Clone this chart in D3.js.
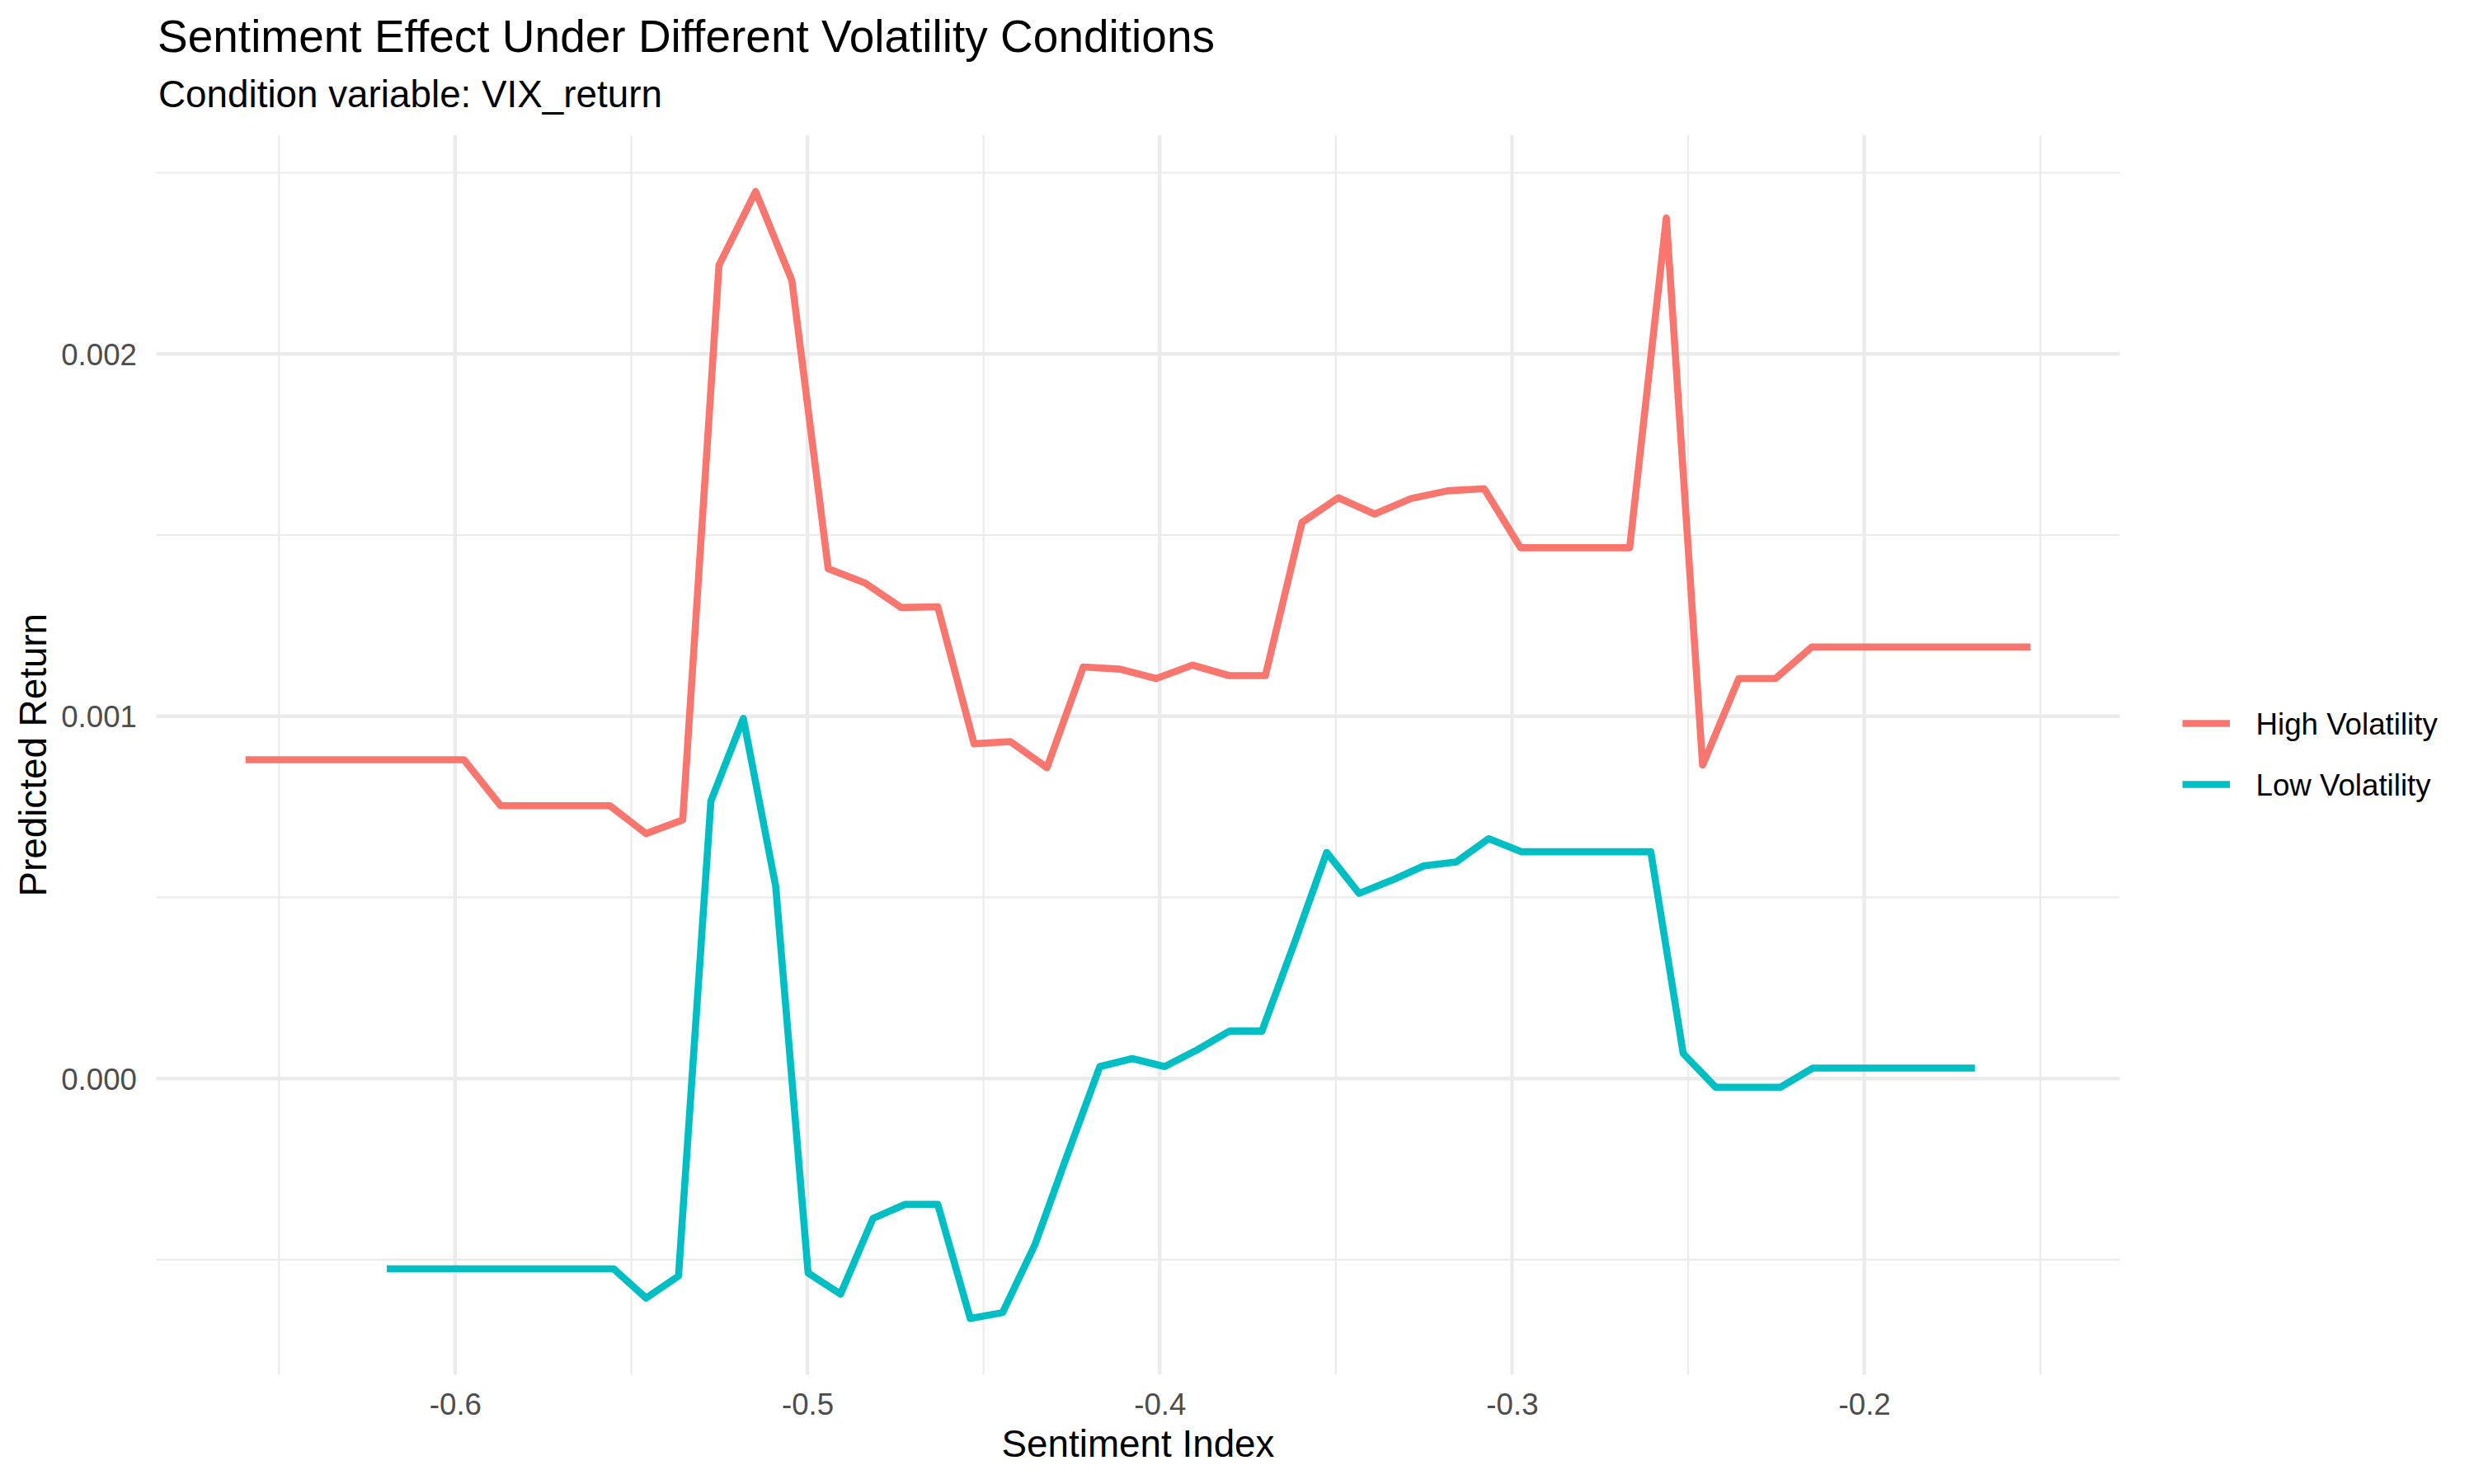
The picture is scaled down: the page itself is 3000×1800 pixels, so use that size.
<!DOCTYPE html>
<html>
<head>
<meta charset="utf-8">
<script src="https://cdn.jsdelivr.net/npm/d3@7"></script>
<style>
  html, body { margin: 0; padding: 0; background: #ffffff; }
  svg { display: block; }
  text { font-family: "Liberation Sans", Arial, Helvetica, sans-serif; }
</style>
</head>
<body>
<svg id="chart" width="3000" height="1800"></svg>
<script>
// ---------------- DATA ----------------
const seriesNames = ["High Volatility", "Low Volatility"];
const seriesColors = ["#F8766D", "#00BFC4"];

const highX = [-0.6595, -0.6492, -0.6388, -0.6285, -0.6181, -0.6078, -0.5975, -0.5871, -0.5768, -0.5664,
  -0.5561, -0.5458, -0.5354, -0.5251, -0.5147, -0.5044, -0.4941, -0.4837, -0.4734, -0.4630,
  -0.4527, -0.4424, -0.4320, -0.4217, -0.4113, -0.4010, -0.3907, -0.3803, -0.3700, -0.3596,
  -0.3493, -0.3390, -0.3286, -0.3183, -0.3079, -0.2976, -0.2873, -0.2769, -0.2666, -0.2562,
  -0.2459, -0.2356, -0.2252, -0.2149, -0.2045, -0.1942, -0.1839, -0.1735, -0.1632, -0.1528];
const highY = [0.000880, 0.000880, 0.000880, 0.000880, 0.000880, 0.000880, 0.000880, 0.000753, 0.000753, 0.000753,
  0.000753, 0.000676, 0.000714, 0.002245, 0.002448, 0.002202, 0.001407, 0.001368, 0.001300, 0.001302,
  0.000924, 0.000930, 0.000858, 0.001136, 0.001130, 0.001104, 0.001141, 0.001112, 0.001112, 0.001535,
  0.001603, 0.001558, 0.001601, 0.001622, 0.001628, 0.001465, 0.001465, 0.001465, 0.001465, 0.002375,
  0.000865, 0.001104, 0.001104, 0.001191, 0.001191, 0.001191, 0.001191, 0.001191, 0.001191, 0.001191];

const lowX = [-0.6194, -0.6102, -0.6010, -0.5918, -0.5826, -0.5734, -0.5642, -0.5550, -0.5458, -0.5366,
  -0.5274, -0.5182, -0.5090, -0.4998, -0.4906, -0.4814, -0.4722, -0.4630, -0.4538, -0.4446,
  -0.4354, -0.4262, -0.4170, -0.4078, -0.3986, -0.3894, -0.3802, -0.3710, -0.3618, -0.3526,
  -0.3434, -0.3342, -0.3250, -0.3158, -0.3066, -0.2974, -0.2882, -0.2790, -0.2698, -0.2606,
  -0.2514, -0.2422, -0.2330, -0.2238, -0.2146, -0.2054, -0.1962, -0.1870, -0.1778, -0.1686];
const lowY = [-0.000525, -0.000525, -0.000525, -0.000525, -0.000525, -0.000525, -0.000525, -0.000525, -0.000606, -0.000545,
  0.000766, 0.000994, 0.000530, -0.000537, -0.000595, -0.000386, -0.000347, -0.000347, -0.000662, -0.000646,
  -0.000458, -0.000210, 0.000033, 0.000055, 0.000033, 0.000079, 0.000131, 0.000131, 0.000373, 0.000624,
  0.000511, 0.000547, 0.000587, 0.000598, 0.000662, 0.000626, 0.000626, 0.000626, 0.000626, 0.000626,
  0.000069, -0.000024, -0.000024, -0.000024, 0.000029, 0.000029, 0.000029, 0.000029, 0.000029, 0.000029];

const xMajorTicks = [-0.6, -0.5, -0.4, -0.3, -0.2];
const xTickLabels = ["-0.6", "-0.5", "-0.4", "-0.3", "-0.2"];
const xMinorTicks = [-0.65, -0.55, -0.45, -0.35, -0.25, -0.15];
const yMajorTicks = [0.000, 0.001, 0.002];
const yTickLabels = ["0.000", "0.001", "0.002"];
const yMinorTicks = [-0.0005, 0.0005, 0.0015, 0.0025];

const titleText = "Sentiment Effect Under Different Volatility Conditions";
const subtitleText = "Condition variable: VIX_return";
const xTitle = "Sentiment Index";
const yTitle = "Predicted Return";

// ---------------- LAYOUT ----------------
const panel = { left: 189.5, right: 2570.5, top: 164, bottom: 1667.5 };
const gridColor = "#EBEBEB";
const axisTextColor = "#4D4D4D";

const series = [
  { name: seriesNames[0], color: seriesColors[0], pts: highX.map((x, i) => ({ x, y: highY[i] })) },
  { name: seriesNames[1], color: seriesColors[1], pts: lowX.map((x, i) => ({ x, y: lowY[i] })) }
];

function expand(ext, mult) {
  const d = ext[1] - ext[0];
  return [ext[0] - d * mult, ext[1] + d * mult];
}
const allX = highX.concat(lowX), allY = highY.concat(lowY);
const x = d3.scaleLinear().domain(expand(d3.extent(allX), 0.05)).range([panel.left, panel.right]);
const y = d3.scaleLinear().domain(expand(d3.extent(allY), 0.05)).range([panel.bottom, panel.top]);

const svg = d3.select("#chart");
svg.append("rect").attr("width", 3000).attr("height", 1800).attr("fill", "#ffffff");

// grid
const grid = svg.append("g");
grid.selectAll(".ymin").data(yMinorTicks).enter().append("line")
  .attr("x1", panel.left).attr("x2", panel.right)
  .attr("y1", d => y(d)).attr("y2", d => y(d))
  .attr("stroke", gridColor).attr("stroke-width", 2.2);
grid.selectAll(".xmin").data(xMinorTicks).enter().append("line")
  .attr("y1", panel.top).attr("y2", panel.bottom)
  .attr("x1", d => x(d)).attr("x2", d => x(d))
  .attr("stroke", gridColor).attr("stroke-width", 2.2);
grid.selectAll(".ymaj").data(yMajorTicks).enter().append("line")
  .attr("x1", panel.left).attr("x2", panel.right)
  .attr("y1", d => y(d)).attr("y2", d => y(d))
  .attr("stroke", gridColor).attr("stroke-width", 4.4);
grid.selectAll(".xmaj").data(xMajorTicks).enter().append("line")
  .attr("y1", panel.top).attr("y2", panel.bottom)
  .attr("x1", d => x(d)).attr("x2", d => x(d))
  .attr("stroke", gridColor).attr("stroke-width", 4.4);

// lines
const lineGen = d3.line().x(d => x(d.x)).y(d => y(d.y));
svg.append("g").selectAll("path").data(series).enter().append("path")
  .attr("d", d => lineGen(d.pts))
  .attr("fill", "none")
  .attr("stroke", d => d.color)
  .attr("stroke-width", 8.6)
  .attr("stroke-linejoin", "round")
  .attr("stroke-linecap", "butt");

// axes (tick labels only, theme_minimal)
const xAxis = d3.axisBottom(x).tickValues(xMajorTicks).tickSize(0).tickPadding(0)
  .tickFormat((d, i) => xTickLabels[i]);
const gx = svg.append("g").attr("transform", `translate(0,${panel.bottom})`).call(xAxis);
gx.select(".domain").remove();
gx.selectAll("text").attr("font-size", 36.7).attr("fill", axisTextColor)
  .attr("font-family", "'Liberation Sans', Arial, sans-serif")
  .attr("dy", null).attr("y", 48.5);

const yAxis = d3.axisLeft(y).tickValues(yMajorTicks).tickSize(0).tickPadding(0)
  .tickFormat((d, i) => yTickLabels[i]);
const gy = svg.append("g").attr("transform", `translate(${panel.left},0)`).call(yAxis);
gy.select(".domain").remove();
gy.selectAll("text").attr("font-size", 36.7).attr("fill", axisTextColor)
  .attr("font-family", "'Liberation Sans', Arial, sans-serif")
  .attr("x", -23.5).attr("dy", "0.36em");

// titles
svg.append("text").attr("x", 191).attr("y", 63).attr("font-size", 55).attr("fill", "#000")
  .text(titleText);
svg.append("text").attr("x", 192).attr("y", 130).attr("font-size", 45.8).attr("fill", "#000")
  .text(subtitleText);
svg.append("text").attr("x", (panel.left + panel.right) / 2).attr("y", 1767)
  .attr("text-anchor", "middle").attr("font-size", 45.8).attr("fill", "#000")
  .text(xTitle);
svg.append("text")
  .attr("transform", `translate(56,${(panel.top + panel.bottom) / 2}) rotate(-90)`)
  .attr("text-anchor", "middle").attr("font-size", 45.8).attr("fill", "#000")
  .text(yTitle);

// legend
const legend = svg.append("g");
const legY = [877.5, 951.5];
series.forEach((s, i) => {
  legend.append("line")
    .attr("x1", 2646.5).attr("x2", 2704).attr("y1", legY[i]).attr("y2", legY[i])
    .attr("stroke", s.color).attr("stroke-width", 8.6).attr("stroke-linecap", "butt");
  legend.append("text")
    .attr("x", 2735.5).attr("y", legY[i] + 13.3)
    .attr("font-size", 36.7).attr("fill", "#000")
    .text(s.name);
});
</script>
</body>
</html>
